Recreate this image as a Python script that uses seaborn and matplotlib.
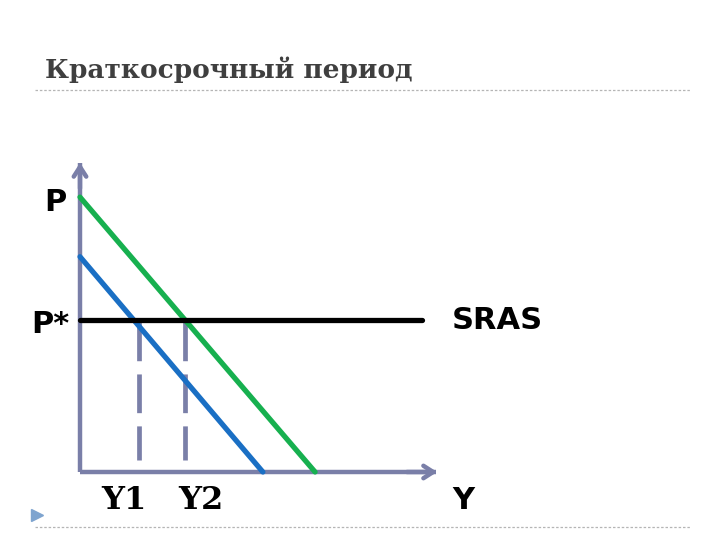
import matplotlib
matplotlib.use("Agg")
import matplotlib.pyplot as plt
from matplotlib.lines import Line2D
import seaborn as sns
import pandas as pd

# curve endpoints (Y, P)
ad1_y = [0.0, 5.08]
ad1_p = [6.90, 0.0]
ad2_y = [0.0, 6.53]
ad2_p = [8.81, 0.0]
sras_y = [0.0, 9.5]
p_star = 4.87
# equilibrium outputs marked with dashed lines
y_marks = [1.64, 2.92]
y_labels = ["Y1", "Y2"]
axis_len_y = 10.0
axis_len_p = 10.0

title = "Краткосрочный период"
axis_color = "#7a7fa8"

sns.set_style("white")
plt.rcParams["font.family"] = ["DejaVu Sans"]

fig = plt.figure(figsize=(7.2, 5.4), dpi=100)
ax = fig.add_axes([0, 0, 1, 1])
ax.set_xlim(-80 / 36, 640 / 36)
ax.set_ylim(-68 / 31.2, 472 / 31.2)
ax.axis("off")

df = pd.DataFrame({
    "Y": ad1_y + ad2_y + sras_y,
    "P": ad1_p + ad2_p + [p_star, p_star],
    "curve": ["AD1"] * 2 + ["AD2"] * 2 + ["SRAS"] * 2,
})
palette = {"AD1": "#1a6fc4", "AD2": "#17b04f", "SRAS": "#000000"}
sns.lineplot(data=df, x="Y", y="P", hue="curve", palette=palette,
             linewidth=3.8, legend=False, ax=ax, sort=False, zorder=3)

for yv in y_marks:
    ax.plot([yv, yv], [p_star - 0.05, 0.38], color=axis_color, lw=3.4,
            dashes=(8.2, 2.8), zorder=2)

# axes arrows
ax.plot([0, 0], [0, axis_len_p - 0.1], color=axis_color, lw=3.2, zorder=1,
        solid_capstyle="butt")
ax.plot([0, axis_len_y - 0.1], [0, 0], color=axis_color, lw=3.2, zorder=1,
        solid_capstyle="butt")
ax.annotate("", xy=(0, axis_len_p), xytext=(0, axis_len_p - 1),
            arrowprops=dict(arrowstyle="->,head_length=0.7,head_width=0.45",
                            color=axis_color, lw=3.2))
ax.annotate("", xy=(axis_len_y, 0), xytext=(axis_len_y - 1, 0),
            arrowprops=dict(arrowstyle="->,head_length=0.7,head_width=0.45",
                            color=axis_color, lw=3.2))

lab = dict(fontsize=22, fontweight="bold", color="black", ha="center", va="center")
ax.text(-0.69, 8.65, "P", **lab)
ax.text(-0.83, 4.72, "P*", **lab)
ax.text(10.33, 4.84, "SRAS", fontsize=22, fontweight="bold", color="black",
        ha="left", va="center")
ax.text(10.64, -0.9, "Y", **lab)
for xv, txt in zip([1.22, 3.36], y_labels):
    ax.text(xv, -0.9, txt, family="DejaVu Serif", fontsize=23,
            fontweight="bold", color="black", ha="center", va="center")

# slide decoration
fig.text(45 / 720, 1 - 70 / 540, title, family="DejaVu Serif", fontsize=19,
         fontweight="bold", color="#3f3f3f", ha="left", va="center")
for yy in [1 - 90 / 540, 1 - 527 / 540]:
    fig.add_artist(Line2D([35 / 720, 690 / 720], [yy, yy], color="#b5b5b5",
                          lw=0.9, dashes=(2, 1.5)))
fig.add_artist(Line2D([37 / 720], [1 - 515 / 540], marker=">", color="#7ea4cf",
                      markersize=9, lw=0))

fig.savefig("out.png", dpi=100, facecolor="white")
